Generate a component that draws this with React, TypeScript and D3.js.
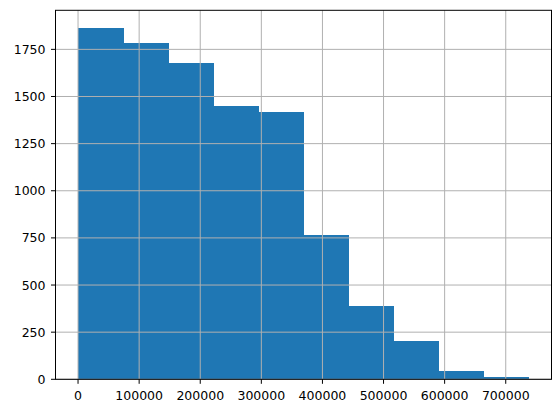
import * as d3 from "d3";
import { useEffect } from "react";

// histogram counts, 10 equal bins
const binStart = 0;
const binEnd = 738000;
const counts = [1864, 1785, 1679, 1451, 1420, 763, 388, 203, 44, 12];
const xTicks = [0, 100000, 200000, 300000, 400000, 500000, 600000, 700000];
const yTicks = [0, 250, 500, 750, 1000, 1250, 1500, 1750];

const W = 560;
const H = 413;
const margin = { top: 10.3, right: 8.5, bottom: 33.7, left: 55.5 };
const FONT = "DejaVu Sans, sans-serif";

export default function App() {
    useEffect(() => {
        document.body.style.margin = "0";
    }, []);

    const step = (binEnd - binStart) / counts.length;
    const bins = counts.map((c, i) => ({
        x0: binStart + i * step,
        x1: binStart + (i + 1) * step,
        count: c,
    }));

    const span = binEnd - binStart;
    const x = d3.scaleLinear()
        .domain([binStart - span * 0.05, binEnd + span * 0.05])
        .range([margin.left, W - margin.right]);

    const yMax = (d3.max(counts) || 0) * 1.05;
    const y = d3.scaleLinear()
        .domain([0, yMax])
        .range([H - margin.bottom, margin.top]);

    const left = margin.left;
    const right = W - margin.right;
    const top = margin.top;
    const bottom = H - margin.bottom;

    return (
        <svg width={W} height={H} style={{ display: "block", background: "#fff" }}>
            {/* bars, drawn as one path so no seams between neighbours */}
            <g shapeRendering="crispEdges">
                {bins.map((b, i) => (
                    <rect
                        key={i}
                        x={x(b.x0)}
                        y={y(b.count)}
                        width={x(b.x1) - x(b.x0) + (i < bins.length - 1 ? 0.6 : 0)}
                        height={bottom - y(b.count)}
                        fill="#1f77b4"
                    />
                ))}
            </g>

            {/* grid on top of bars */}
            {xTicks.map(t => (
                <line key={"gx" + t} x1={x(t)} x2={x(t)} y1={top} y2={bottom}
                      stroke="#b0b0b0" strokeWidth={1} />
            ))}
            {yTicks.map(t => (
                <line key={"gy" + t} x1={left} x2={right} y1={y(t)} y2={y(t)}
                      stroke="#b0b0b0" strokeWidth={1} />
            ))}

            {/* spines */}
            <rect x={left} y={top} width={right - left} height={bottom - top}
                  fill="none" stroke="#000" strokeWidth={1} />

            {/* x ticks */}
            {xTicks.map(t => (
                <g key={"xt" + t}>
                    <line x1={x(t)} x2={x(t)} y1={bottom} y2={bottom + 4.5} stroke="#000" strokeWidth={1} />
                    <text x={x(t)} y={bottom + 20.5} textAnchor="middle"
                          fontFamily={FONT} fontSize={12.5} fill="#000">{t}</text>
                </g>
            ))}

            {/* y ticks */}
            {yTicks.map(t => (
                <g key={"yt" + t}>
                    <line x1={left - 4.5} x2={left} y1={y(t)} y2={y(t)} stroke="#000" strokeWidth={1} />
                    <text x={left - 10} y={y(t)} dy="0.36em" textAnchor="end"
                          fontFamily={FONT} fontSize={12.5} fill="#000">{t}</text>
                </g>
            ))}
        </svg>
    );
}
